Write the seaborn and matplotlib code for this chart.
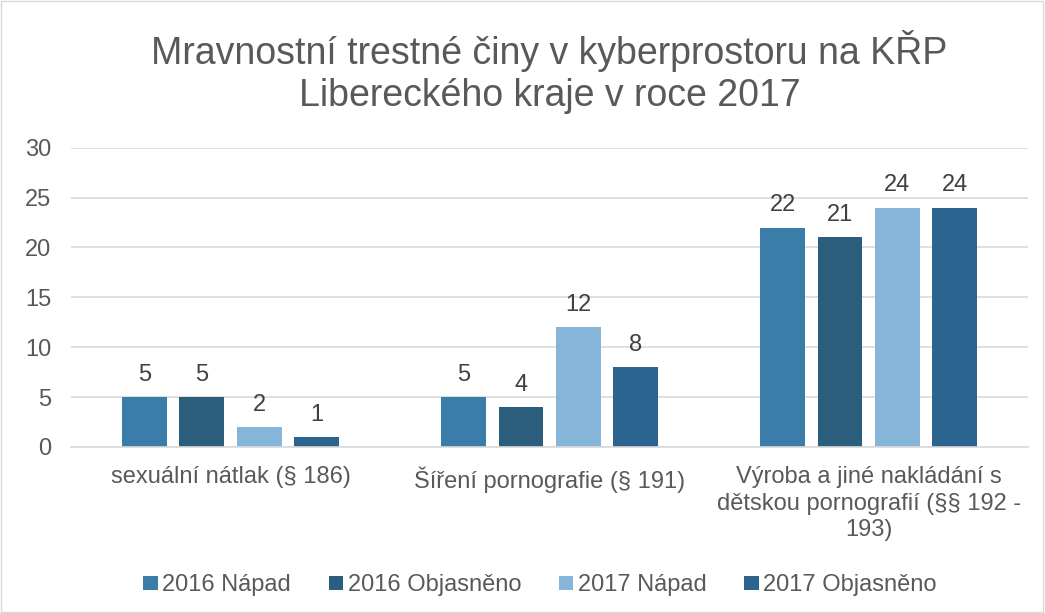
import pandas as pd
import matplotlib.pyplot as plt
import seaborn as sns

# data
categories = ['sexuální nátlak (§ 186)', 'Šíření pornografie (§ 191)',
              'Výroba a jiné nakládání s\ndětskou pornografií (§§ 192 -\n193)']
series = ['2016 Nápad', '2016 Objasněno', '2017 Nápad', '2017 Objasněno']
napad_2016 = [5, 5, 22]
objasneno_2016 = [5, 4, 21]
napad_2017 = [2, 12, 24]
objasneno_2017 = [1, 8, 24]
colors = ['#3A7DA8', '#2B5D7D', '#85B6DA', '#2C6490']

rows = []
for s, vals in zip(series, [napad_2016, objasneno_2016, napad_2017, objasneno_2017]):
    for c, v in zip(categories, vals):
        rows.append({'kategorie': c, 'rada': s, 'hodnota': v})
df = pd.DataFrame(rows)

sns.set_style('white')
plt.rcParams['font.family'] = ['Liberation Sans', 'DejaVu Sans']
txt = '#595959'

fig = plt.figure(figsize=(10.45, 6.13), dpi=100)
ax = fig.add_axes([0.068, 0.271, 0.916, 0.488])
sns.barplot(data=df, x='kategorie', y='hodnota', hue='rada', hue_order=series,
            palette=colors, width=0.72, gap=0.22, ax=ax, saturation=1, linewidth=0)

for cont in ax.containers:
    ax.bar_label(cont, padding=8, fontsize=17, color='#404040')

ax.set_ylim(0, 30)
ax.set_yticks(range(0, 31, 5))
ax.set_xlim(-0.5, 2.5)
ax.yaxis.grid(True, color='#d9d9d9', linewidth=1.2)
ax.set_axisbelow(True)
for sp in ['top', 'right', 'left']:
    ax.spines[sp].set_visible(False)
ax.spines['bottom'].set_color('#d9d9d9')
ax.spines['bottom'].set_linewidth(1.2)
ax.tick_params(axis='both', length=0, labelsize=17, colors=txt)
ax.tick_params(axis='y', pad=14)
ax.tick_params(axis='x', pad=14)
for lab in ax.get_xticklabels():
    lab.set_linespacing(1.25)
ax.set_xlabel('')
ax.set_ylabel('')

ax.set_title('Mravnostní trestné činy v kyberprostoru na KŘP\nLibereckého kraje v roce 2017',
             fontsize=27, color=txt, pad=30, linespacing=1.2)

ax.legend(loc='upper center', bbox_to_anchor=(0.49, -0.355), ncol=4, frameon=False,
          fontsize=17, handlelength=0.6, handleheight=0.6, handletextpad=0.2,
          columnspacing=1.6, labelcolor=txt)

fig.patches.append(plt.Rectangle((0.001, 0.001), 0.997, 0.997, transform=fig.transFigure,
                                 fill=False, edgecolor='#d9d9d9', linewidth=1))

fig.savefig('out.png', dpi=100)
